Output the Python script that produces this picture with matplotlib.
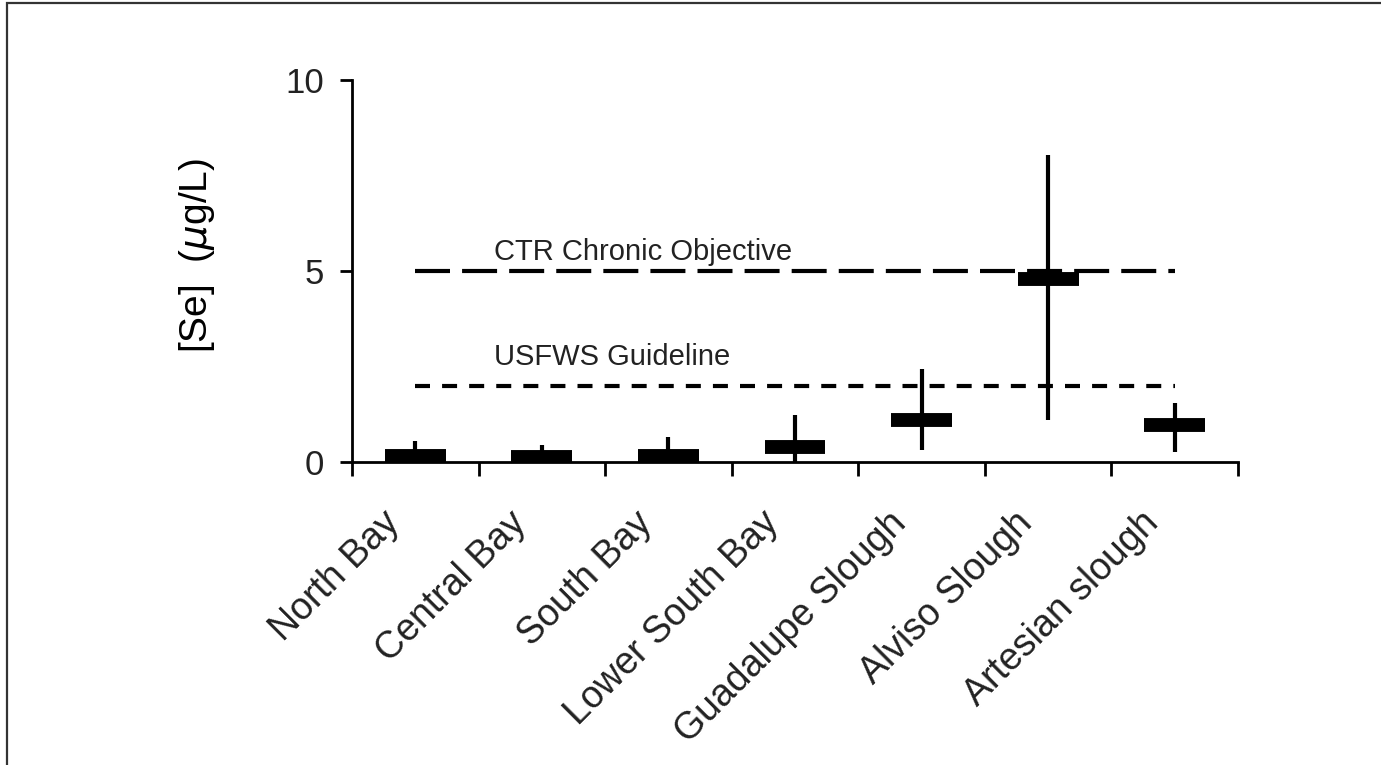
import matplotlib
matplotlib.use("Agg")
import matplotlib.pyplot as plt
from matplotlib.patches import Rectangle
import matplotlib.transforms as mtransforms
import numpy as np

plt.rcParams['font.family'] = ['Liberation Sans', 'DejaVu Sans']

categories = ["North Bay", "Central Bay", "South Bay", "Lower South Bay",
              "Guadalupe Slough", "Alviso Slough", "Artesian slough"]
means = [0.17, 0.14, 0.16, 0.38, 1.11, 4.80, 0.96]
upper = [0.56, 0.45, 0.65, 1.23, 2.43, 8.04, 1.54]
lower = [0.00, 0.00, 0.00, 0.00, 0.31, 1.10, 0.26]
ctr_objective = 5.0
usfws_guideline = 2.0
yticks = [0, 5, 10]

W, H = 1381, 765
fig = plt.figure(figsize=(W / 100, H / 100), dpi=100)
ax = fig.add_axes([352 / W, 1 - 462 / H, (1238 - 352) / W, (462 - 80) / H])

x = np.arange(len(categories))

# whiskers
ax.vlines(x, lower, upper, color='black', lw=3.0, zorder=3)
# mean bars
ax.hlines(means, x - 0.24, x + 0.24, color='black', lw=10, zorder=3)

# reference lines
ax.plot([x[0], x[-1]], [ctr_objective] * 2, color='black', lw=3,
        linestyle=(0, (8.4, 2.9)), dash_capstyle='butt', zorder=2)
ax.plot([x[0], x[-1]], [usfws_guideline] * 2, color='black', lw=3,
        linestyle=(0, (3.6, 2.9)), dash_capstyle='butt', zorder=2)
ax.text(0.62, 5.5, "CTR Chronic Objective", fontsize=21, va='center', ha='left',
        color='#222222')
ax.text(0.62, 2.75, "USFWS Guideline", fontsize=21, va='center', ha='left',
        color='#222222')

ax.set_xlim(-0.5, len(categories) - 0.5)
ax.set_ylim(0, 10)
ax.set_xticks(np.arange(-0.5, len(categories)))
ax.set_xticklabels([])
ax.set_xticks(x, minor=True)
ax.set_xticklabels(categories, minor=True, rotation=45, ha='right',
                   rotation_mode='anchor', fontsize=27, color='#222222')
ax.tick_params(axis='x', which='minor', length=0, pad=31)
ax.tick_params(axis='x', which='major', length=10, width=2)
offset = mtransforms.ScaledTranslation(-34 / 100, 0, fig.dpi_scale_trans)
for lab in ax.get_xticklabels(minor=True):
    lab.set_transform(lab.get_transform() + offset)
ax.set_yticks(yticks)
ax.set_yticklabels([str(v) for v in yticks], fontsize=25, color='#222222')
ax.tick_params(axis='y', length=9, width=2, pad=11)

for s in ['top', 'right']:
    ax.spines[s].set_visible(False)
for s in ['left', 'bottom']:
    ax.spines[s].set_linewidth(2)

fig.text(197 / W, 1 - 256 / H, "[Se]  ($\\mu$g/L)", rotation=90,
         ha='center', va='center', fontsize=28)

fig.patches.append(Rectangle((6.5 / W, -0.1), 1.2, 1.1 - 3.5 / H,
                             transform=fig.transFigure, fill=False,
                             edgecolor='#333333', lw=1.6))

fig.savefig("out.png", dpi=100)
